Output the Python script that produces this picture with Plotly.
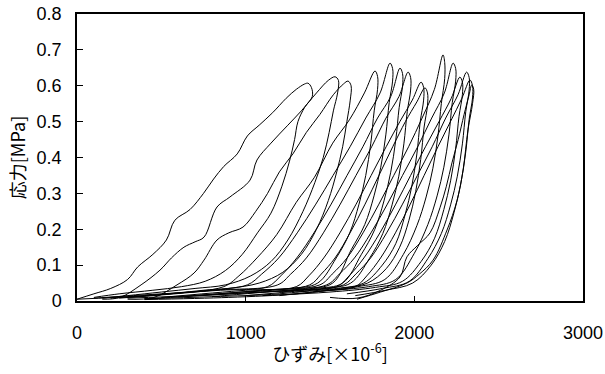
import plotly.graph_objects as go

# Strain [x10^-6] and stress [MPa] for each load-unload loop
loop01_x = [0, 100, 200, 300, 360, 450, 530, 580, 670, 750, 810, 870, 950, 1010, 1080, 1160, 1240, 1300, 1350, 1370,
            1390, 1395, 1350, 1310, 1290, 1260, 1215, 1150, 1070, 980, 880, 760, 620, 450, 250, 100]
loop01_y = [0.005, 0.02, 0.035, 0.06, 0.095, 0.13, 0.17, 0.225, 0.255, 0.30, 0.34, 0.375, 0.41, 0.46, 0.49, 0.525, 0.565, 0.59, 0.605, 0.607,
            0.595, 0.57, 0.54, 0.50, 0.45, 0.39, 0.32, 0.245, 0.19, 0.13, 0.085, 0.055, 0.04, 0.03, 0.02, 0.01]

loop02_x = [150, 255, 380, 492, 560, 634, 700, 753, 830, 907, 1026, 1067, 1150, 1250, 1330, 1420, 1490, 1530,
            1550, 1545, 1520, 1495, 1460, 1410, 1340, 1250, 1150, 1030, 880, 700, 500, 300, 150]
loop02_y = [0.005, 0.01, 0.045, 0.086, 0.12, 0.15, 0.165, 0.178, 0.262, 0.29, 0.337, 0.393, 0.44, 0.49, 0.53, 0.58, 0.615, 0.625,
            0.615, 0.58, 0.53, 0.47, 0.40, 0.33, 0.25, 0.17, 0.11, 0.07, 0.045, 0.035, 0.025, 0.015, 0.008]

loop03_x = [300, 456, 593, 694, 753, 830, 900, 984, 1060, 1130, 1200, 1280, 1360, 1440, 1520, 1580, 1607,
            1625, 1620, 1600, 1575, 1540, 1490, 1420, 1330, 1220, 1080, 900, 700, 450, 250]
loop03_y = [0.005, 0.01, 0.045, 0.078, 0.114, 0.17, 0.19, 0.206, 0.25, 0.30, 0.36, 0.41, 0.47, 0.52, 0.575, 0.605, 0.613,
            0.60, 0.56, 0.50, 0.43, 0.36, 0.28, 0.20, 0.13, 0.08, 0.05, 0.035, 0.025, 0.015, 0.008]

loop04_x = [200, 550, 870, 960, 1067, 1184, 1300, 1408, 1516, 1615, 1704, 1767,
            1782, 1782, 1762, 1742, 1712, 1672, 1617, 1537, 1427, 1267, 1000]
loop04_y = [0.008, 0.02, 0.04, 0.07, 0.12, 0.185, 0.275, 0.345, 0.44, 0.505, 0.58, 0.641,
            0.626, 0.59, 0.53, 0.44, 0.35, 0.27, 0.19, 0.12, 0.05, 0.035, 0.025]

loop05_x = [0, 400, 750, 1010, 1095, 1196, 1306, 1416, 1518, 1619, 1712, 1797, 1856,
            1871, 1871, 1851, 1831, 1801, 1761, 1706, 1626, 1516, 1356, 1100, 700, 300]
loop05_y = [0.005, 0.015, 0.03, 0.045, 0.075, 0.12, 0.19, 0.27, 0.35, 0.43, 0.51, 0.58, 0.663,
            0.648, 0.613, 0.553, 0.463, 0.373, 0.293, 0.213, 0.143, 0.05, 0.035, 0.025, 0.015, 0.008]

loop06_x = [100, 500, 850, 1130, 1208, 1303, 1405, 1507, 1601, 1695, 1782, 1860, 1915,
            1930, 1930, 1910, 1890, 1860, 1820, 1765, 1685, 1575, 1415, 1200]
loop06_y = [0.008, 0.02, 0.03, 0.04, 0.07, 0.12, 0.19, 0.27, 0.35, 0.43, 0.51, 0.57, 0.649,
            0.634, 0.599, 0.539, 0.449, 0.359, 0.279, 0.199, 0.129, 0.05, 0.035, 0.025]

loop07_x = [300, 800, 1190, 1267, 1360, 1461, 1561, 1654, 1747, 1832, 1909, 1963,
            1978, 1978, 1958, 1938, 1908, 1868, 1813, 1733, 1623, 1463, 1200, 800, 400]
loop07_y = [0.01, 0.03, 0.045, 0.075, 0.12, 0.19, 0.27, 0.35, 0.43, 0.51, 0.57, 0.638,
            0.623, 0.588, 0.528, 0.438, 0.348, 0.268, 0.188, 0.118, 0.05, 0.035, 0.02, 0.012, 0.006]

loop08_x = [500, 1000, 1300, 1374, 1463, 1559, 1655, 1744, 1833, 1914, 1988, 2040,
            2055, 2055, 2035, 2015, 1985, 1945, 1890, 1810, 1700, 1540, 1300]
loop08_y = [0.01, 0.03, 0.04, 0.07, 0.12, 0.19, 0.27, 0.35, 0.43, 0.50, 0.56, 0.61,
            0.595, 0.56, 0.50, 0.41, 0.32, 0.24, 0.16, 0.10, 0.05, 0.035, 0.025]

loop09_x = [700, 1100, 1380, 1448, 1530, 1619, 1708, 1790, 1872, 1947, 2015, 2063,
            2078, 2078, 2058, 2038, 2008, 1968, 1913, 1833, 1723, 1563, 1300, 900, 400]
loop09_y = [0.015, 0.03, 0.045, 0.075, 0.12, 0.19, 0.27, 0.35, 0.43, 0.50, 0.555, 0.594,
            0.58, 0.545, 0.485, 0.395, 0.305, 0.225, 0.15, 0.09, 0.05, 0.035, 0.02, 0.01, 0.004]

loop10_x = [600, 1100, 1440, 1513, 1601, 1696, 1790, 1878, 1966, 2046, 2119, 2170,
            2180, 2180, 2160, 2140, 2110, 2070, 2015, 1935, 1825, 1665, 1400]
loop10_y = [0.012, 0.03, 0.045, 0.075, 0.12, 0.19, 0.27, 0.35, 0.43, 0.51, 0.59, 0.686,
            0.665, 0.62, 0.55, 0.46, 0.37, 0.29, 0.21, 0.13, 0.06, 0.04, 0.025]

loop11_x = [400, 900, 1480, 1555, 1645, 1743, 1840, 1930, 2020, 2103, 2178, 2230,
            2245, 2245, 2225, 2205, 2175, 2135, 2080, 2000, 1890, 1730, 1500]
loop11_y = [0.006, 0.02, 0.045, 0.075, 0.12, 0.19, 0.27, 0.35, 0.43, 0.51, 0.58, 0.663,
            0.648, 0.613, 0.553, 0.463, 0.373, 0.293, 0.213, 0.133, 0.06, 0.04, 0.03]

loop12_x = [800, 1250, 1540, 1613, 1701, 1796, 1890, 1978, 2066, 2146, 2219, 2270,
            2285, 2285, 2265, 2245, 2215, 2175, 2120, 2040, 1930, 1770, 1500, 1100]
loop12_y = [0.012, 0.03, 0.04, 0.07, 0.12, 0.19, 0.27, 0.35, 0.43, 0.50, 0.565, 0.624,
            0.61, 0.575, 0.515, 0.425, 0.335, 0.255, 0.175, 0.11, 0.055, 0.038, 0.025, 0.015]

loop13_x = [1000, 1350, 1580, 1653, 1741, 1836, 1930, 2018, 2106, 2186, 2259, 2310,
            2325, 2325, 2305, 2285, 2255, 2215, 2160, 2080, 1970, 1810, 1600]
loop13_y = [0.015, 0.03, 0.045, 0.075, 0.12, 0.19, 0.27, 0.35, 0.43, 0.51, 0.575, 0.638,
            0.623, 0.588, 0.528, 0.438, 0.348, 0.268, 0.188, 0.118, 0.055, 0.035, 0.02]

loop14_x = [1200, 1450, 1650, 1718, 1800, 1888, 1976, 2058, 2140, 2214, 2282, 2330,
            2345, 2345, 2325, 2305, 2275, 2235, 2180, 2100, 1990, 1830, 1650]
loop14_y = [0.015, 0.028, 0.04, 0.07, 0.12, 0.19, 0.27, 0.35, 0.43, 0.50, 0.565, 0.616,
            0.60, 0.566, 0.506, 0.416, 0.326, 0.246, 0.166, 0.10, 0.05, 0.03, 0.015]

loop15_x = [1500, 1660, 1800, 1915, 1956, 2020, 2093, 2152, 2190, 2223, 2260, 2295, 2325, 2340,
            2352, 2345, 2318, 2289, 2253, 2194, 2111, 2030, 1956, 1800, 1660]
loop15_y = [0.01, 0.008, 0.03, 0.067, 0.123, 0.155, 0.19, 0.26, 0.32, 0.385, 0.45, 0.52, 0.575, 0.602,
            0.59, 0.55, 0.477, 0.365, 0.28, 0.198, 0.114, 0.075, 0.05, 0.025, 0.005]

loops = [
    (loop01_x, loop01_y), (loop02_x, loop02_y), (loop03_x, loop03_y),
    (loop04_x, loop04_y), (loop05_x, loop05_y), (loop06_x, loop06_y),
    (loop07_x, loop07_y), (loop08_x, loop08_y), (loop09_x, loop09_y),
    (loop10_x, loop10_y), (loop11_x, loop11_y), (loop12_x, loop12_y),
    (loop13_x, loop13_y), (loop14_x, loop14_y), (loop15_x, loop15_y),
]

x_ticks = [0, 1000, 2000, 3000]
y_ticks = [0, 0.1, 0.2, 0.3, 0.4, 0.5, 0.6, 0.7, 0.8]
y_tick_labels = ["0", "0.1", "0.2", "0.3", "0.4", "0.5", "0.6", "0.7", "0.8"]

fig = go.Figure()
for lx, ly in loops:
    fig.add_trace(go.Scatter(
        x=lx, y=ly, mode="lines",
        line=dict(color="black", width=1, shape="spline", smoothing=1.0),
        showlegend=False, hoverinfo="skip"))

font_family = "Arial, Liberation Sans, Noto Sans CJK JP, sans-serif"
jp_family = "Noto Sans CJK JP, Arial, sans-serif"

fig.update_layout(
    width=605, height=374,
    margin=dict(l=77, r=22, t=14, b=73, autoexpand=False),
    paper_bgcolor="white", plot_bgcolor="white",
    font=dict(family=font_family, size=18, color="black"),
    showlegend=False,
)
fig.update_xaxes(
    range=[0, 3000], tickvals=x_ticks, ticktext=[str(v) for v in x_ticks],
    ticks="inside", ticklen=5, tickwidth=1, tickcolor="black",
    tickfont=dict(family=font_family, size=18),
    showline=True, linecolor="black", linewidth=1.5, mirror=True,
    showgrid=False, zeroline=False, automargin=False,
    ticklabelstandoff=15,
    title=dict(text="ひずみ[×10<sup>-6</sup>]", standoff=6,
               font=dict(family=jp_family, size=18)),
)
fig.update_yaxes(
    range=[0, 0.8], tickvals=y_ticks, ticktext=y_tick_labels,
    ticks="inside", ticklen=6, tickwidth=1, tickcolor="black",
    tickfont=dict(family=font_family, size=18),
    showline=True, linecolor="black", linewidth=1.5, mirror=True,
    showgrid=False, zeroline=False, automargin=False,
    ticklabelstandoff=10,
    title=dict(text="応力[MPa]", standoff=6,
               font=dict(family=jp_family, size=18)),
)

fig.write_html("out.html")
